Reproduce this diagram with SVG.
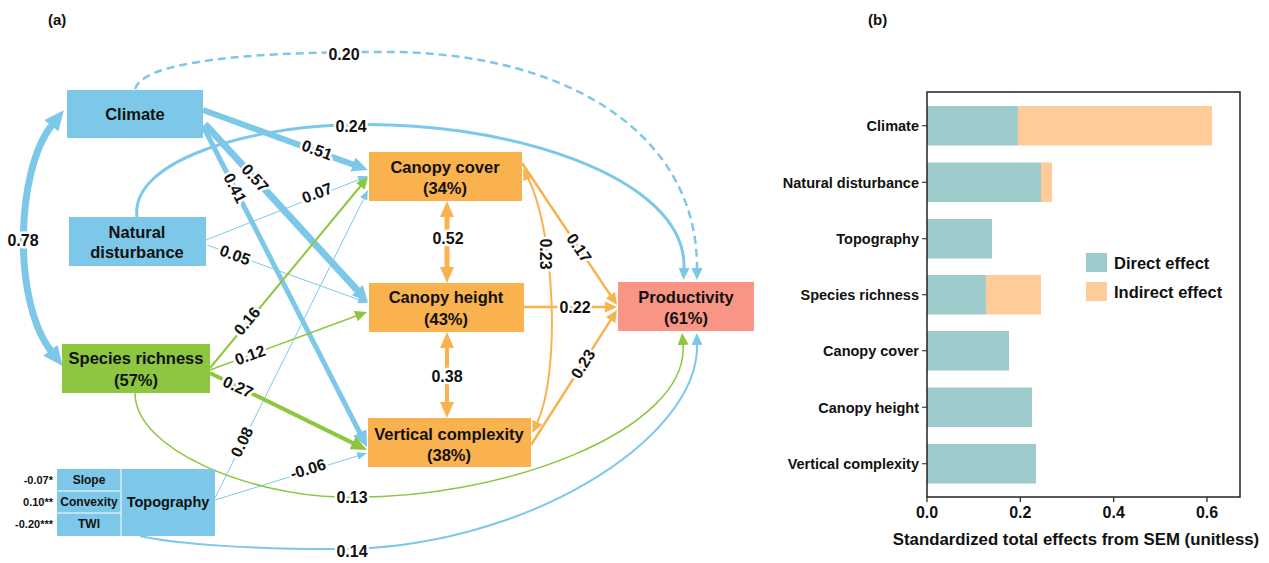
<svg xmlns="http://www.w3.org/2000/svg" width="1269" height="563" viewBox="0 0 1269 563">
<style>
text{font-family:"Liberation Sans",Arial,sans-serif;font-weight:bold;fill:#111}
.nt{font-size:16.5px;text-anchor:middle}
.el{font-size:16px;text-anchor:middle;stroke:#fff;stroke-width:5;paint-order:stroke;stroke-linejoin:round}
.sub{font-size:12px;text-anchor:middle}
.sig{font-size:11px;text-anchor:end}
.blue{fill:#7DC8E9}
.orange{fill:#F9B24E}
.green{fill:#8DC63F}
.salmon{fill:#F99584}
.eb{fill:none;stroke:#7DC8E9}
.eo{fill:none;stroke:#F9B24E}
.eg{fill:none;stroke:#8DC63F}
.bl{font-size:14.5px;text-anchor:end}
.tk{font-size:16px;text-anchor:middle}
.lg{font-size:16.5px}
</style>
<defs>
<marker id="bS" markerUnits="userSpaceOnUse" markerWidth="10" markerHeight="8" refX="1" refY="4" orient="auto-start-reverse"><path d="M0,0 L10,4 L0,8 z" fill="#7DC8E9"/></marker>
<marker id="bM" markerUnits="userSpaceOnUse" markerWidth="12" markerHeight="11" refX="1" refY="5.5" orient="auto-start-reverse"><path d="M0,0 L12,5.5 L0,11 z" fill="#7DC8E9"/></marker>
<marker id="bL" markerUnits="userSpaceOnUse" markerWidth="16" markerHeight="15" refX="1" refY="7.5" orient="auto-start-reverse"><path d="M0,0 L16,7.5 L0,15 z" fill="#7DC8E9"/></marker>
<marker id="bXL" markerUnits="userSpaceOnUse" markerWidth="20" markerHeight="18" refX="1" refY="9" orient="auto-start-reverse"><path d="M0,0 L20,9 L0,18 z" fill="#7DC8E9"/></marker>
<marker id="gM" markerUnits="userSpaceOnUse" markerWidth="12" markerHeight="11" refX="1" refY="5.5" orient="auto-start-reverse"><path d="M0,0 L12,5.5 L0,11 z" fill="#8DC63F"/></marker>
<marker id="gL" markerUnits="userSpaceOnUse" markerWidth="16" markerHeight="14" refX="1" refY="7" orient="auto-start-reverse"><path d="M0,0 L16,7 L0,14 z" fill="#8DC63F"/></marker>
<marker id="oM" markerUnits="userSpaceOnUse" markerWidth="12" markerHeight="11" refX="1" refY="5.5" orient="auto-start-reverse"><path d="M0,0 L12,5.5 L0,11 z" fill="#F9B24E"/></marker>
<marker id="oL" markerUnits="userSpaceOnUse" markerWidth="16" markerHeight="14" refX="1" refY="7" orient="auto-start-reverse"><path d="M0,0 L16,7 L0,14 z" fill="#F9B24E"/></marker>
</defs>
<rect width="1269" height="563" fill="#fff"/>
<text x="48" y="25" style="font-size:15px">(a)</text>
<text x="868" y="25" style="font-size:15px">(b)</text>

<g id="connectors">
<path class="eb" d="M52,125 C16,170 12,300 51,351" stroke-width="7" marker-start="url(#bXL)" marker-end="url(#bXL)"/>
<path class="eb" d="M135,89 C145,55 300,52 380,52 C560,50 698,130 697,269" stroke-width="2.5" stroke-dasharray="8 5" marker-end="url(#bM)"/>
<path class="eb" d="M137,217 C130,160 250,128 340,125 C500,118 688,175 684,269" stroke-width="3" marker-end="url(#bM)"/>
<path class="eb" d="M203,110 L353.9,164.9" stroke-width="6" marker-end="url(#bL)"/>
<path class="eb" d="M205,124 L357.9,290.9" stroke-width="7" marker-end="url(#bL)"/>
<path class="eb" d="M203,126 L360.2,433.6" stroke-width="5" marker-end="url(#bL)"/>
<path class="eb" d="M206,240 L359.6,179.3" stroke-width="1" marker-end="url(#bS)"/>
<path class="eb" d="M207,245 L359.5,299.9" stroke-width="1" marker-end="url(#bS)"/>
<path class="eb" d="M215,498 L364,198.1" stroke-width="1" marker-end="url(#bS)"/>
<path class="eb" d="M215,500 L358.4,455.7" stroke-width="1" marker-end="url(#bS)"/>
<path class="eb" d="M140,536 C180,545 260,549 330,549 C520,552 700,440 697,344" stroke-width="2" marker-end="url(#bM)"/>
<path class="eg" d="M210,368 L361,185.5" stroke-width="2" marker-end="url(#gM)"/>
<path class="eg" d="M210,370 L356.7,315.8" stroke-width="1.5" marker-end="url(#gM)"/>
<path class="eg" d="M210,373 L353.5,443.4" stroke-width="4" marker-end="url(#gL)"/>
<path class="eg" d="M135,393 C135,450 250,495 340,497 C500,502 690,430 683,344" stroke-width="1.5" marker-end="url(#gM)"/>
<path class="eo" d="M447,216 L447,268" stroke-width="5" marker-start="url(#oL)" marker-end="url(#oL)"/>
<path class="eo" d="M447,347 L447,403" stroke-width="4" marker-start="url(#oL)" marker-end="url(#oL)"/>
<path class="eo" d="M528,178 C556,235 560,375 537,423" stroke-width="2" marker-start="url(#oM)" marker-end="url(#oM)"/>
<path class="eo" d="M522,163 L610.9,295.9" stroke-width="2.5" marker-end="url(#oM)"/>
<path class="eo" d="M524,307 L606,307" stroke-width="2.5" marker-end="url(#oM)"/>
<path class="eo" d="M531,445 L611.1,319.3" stroke-width="2.5" marker-end="url(#oM)"/>

<text class="el" x="23" y="246">0.78</text>
<text class="el" x="344" y="60">0.20</text>
<text class="el" x="351" y="132">0.24</text>
<text class="el" transform="translate(317,150) rotate(20)" y="5.5">0.51</text>
<text class="el" transform="translate(255,178) rotate(48)" y="5.5">0.57</text>
<text class="el" transform="translate(235,188) rotate(63)" y="5.5">0.41</text>
<text class="el" transform="translate(317,193) rotate(-21)" y="5.5">0.07</text>
<text class="el" transform="translate(235,255) rotate(20)" y="5.5">0.05</text>
<text class="el" transform="translate(247,321) rotate(-50)" y="5.5">0.16</text>
<text class="el" transform="translate(250,355) rotate(-20)" y="5.5">0.12</text>
<text class="el" transform="translate(238,387) rotate(25)" y="5.5">0.27</text>
<text class="el" transform="translate(242,442) rotate(-64)" y="5.5">0.08</text>
<text class="el" transform="translate(308,469) rotate(-17)" y="5.5">-0.06</text>
<text class="el" x="352" y="503">0.13</text>
<text class="el" x="352" y="557">0.14</text>
<text class="el" x="448" y="244">0.52</text>
<text class="el" x="447" y="382">0.38</text>
<text class="el" transform="translate(545,254) rotate(90)" y="5.5">0.23</text>
<text class="el" transform="translate(579,248) rotate(56)" y="5.5">0.17</text>
<text class="el" x="575" y="313">0.22</text>
<text class="el" transform="translate(583,364) rotate(-58)" y="5.5">0.23</text>
</g>

<g id="climate"><rect class="blue" x="67" y="90" width="136" height="48"/><text class="nt" x="135" y="120">Climate</text></g>
<g id="natural-disturbance"><rect class="blue" x="69" y="217" width="137" height="49"/><text class="nt" x="137" y="238">Natural</text><text class="nt" x="137" y="258">disturbance</text></g>
<g id="species-richness"><rect class="green" x="62" y="344" width="148" height="49"/><text class="nt" x="136" y="364">Species richness</text><text class="nt" x="136" y="386">(57%)</text></g>
<g id="topography">
<rect class="blue" x="57" y="469" width="158" height="67"/>
<path d="M121,469 V536 M57,491 H121 M57,513 H121" stroke="#fff" stroke-width="1" fill="none"/>
<text class="sub" x="89" y="484">Slope</text>
<text class="sub" x="89" y="506">Convexity</text>
<text class="sub" x="89" y="528">TWI</text>
<text x="168" y="507" style="font-size:14.5px;text-anchor:middle">Topography</text>
<text class="sig" x="53" y="484">-0.07*</text>
<text class="sig" x="53" y="506">0.10**</text>
<text class="sig" x="53" y="528">-0.20***</text>
</g>
<g id="canopy-cover"><rect class="orange" x="369" y="152" width="153" height="49"/><text class="nt" x="445" y="173">Canopy cover</text><text class="nt" x="445" y="194">(34%)</text></g>
<g id="canopy-height"><rect class="orange" x="369" y="283" width="155" height="49"/><text class="nt" x="446" y="303">Canopy height</text><text class="nt" x="446" y="325">(43%)</text></g>
<g id="vertical-complexity"><rect class="orange" x="368" y="418" width="163" height="49"/><text class="nt" x="449" y="440">Vertical complexity</text><text class="nt" x="449" y="461">(38%)</text></g>
<g id="productivity"><rect class="salmon" x="618" y="282" width="136" height="49"/><text class="nt" x="686" y="303">Productivity</text><text class="nt" x="686" y="324">(61%)</text></g>

<g id="bar-chart">
<g fill="#9ECBCB">
<rect x="927" y="106" width="91" height="39.5"/>
<rect x="927" y="162.5" width="114" height="39.5"/>
<rect x="927" y="219" width="65" height="39.5"/>
<rect x="927" y="275" width="59" height="39.5"/>
<rect x="927" y="331" width="82" height="39.5"/>
<rect x="927" y="387.5" width="105" height="39.5"/>
<rect x="927" y="444" width="109" height="39.5"/>
</g>
<g fill="#FFCB99">
<rect x="1018" y="106" width="194" height="39.5"/>
<rect x="1041" y="162.5" width="11" height="39.5"/>
<rect x="986" y="275" width="55" height="39.5"/>
</g>
<rect x="927" y="92" width="313" height="405" fill="none" stroke="#222" stroke-width="1.5"/>
<path d="M922,125.75 H927 M922,182.25 H927 M922,238.75 H927 M922,294.75 H927 M922,350.75 H927 M922,407.25 H927 M922,463.75 H927 M927,497 V502 M1020.3,497 V502 M1113.7,497 V502 M1207,497 V502" stroke="#222" stroke-width="1.2"/>
<text class="bl" x="919" y="131">Climate</text>
<text class="bl" x="919" y="187.5">Natural disturbance</text>
<text class="bl" x="919" y="244">Topography</text>
<text class="bl" x="919" y="300">Species richness</text>
<text class="bl" x="919" y="356">Canopy cover</text>
<text class="bl" x="919" y="412.5">Canopy height</text>
<text class="bl" x="919" y="469">Vertical complexity</text>
<text class="tk" x="927" y="518">0.0</text>
<text class="tk" x="1020.3" y="518">0.2</text>
<text class="tk" x="1113.7" y="518">0.4</text>
<text class="tk" x="1207" y="518">0.6</text>
<text x="1076" y="545" style="font-size:16.8px;text-anchor:middle">Standardized total effects from SEM (unitless)</text>
<rect x="1086" y="253" width="21" height="19" fill="#9ECBCB"/>
<text class="lg" x="1114" y="269">Direct effect</text>
<rect x="1086" y="282" width="21" height="19" fill="#FFCB99"/>
<text class="lg" x="1114" y="298">Indirect effect</text>
</g>
</svg>
